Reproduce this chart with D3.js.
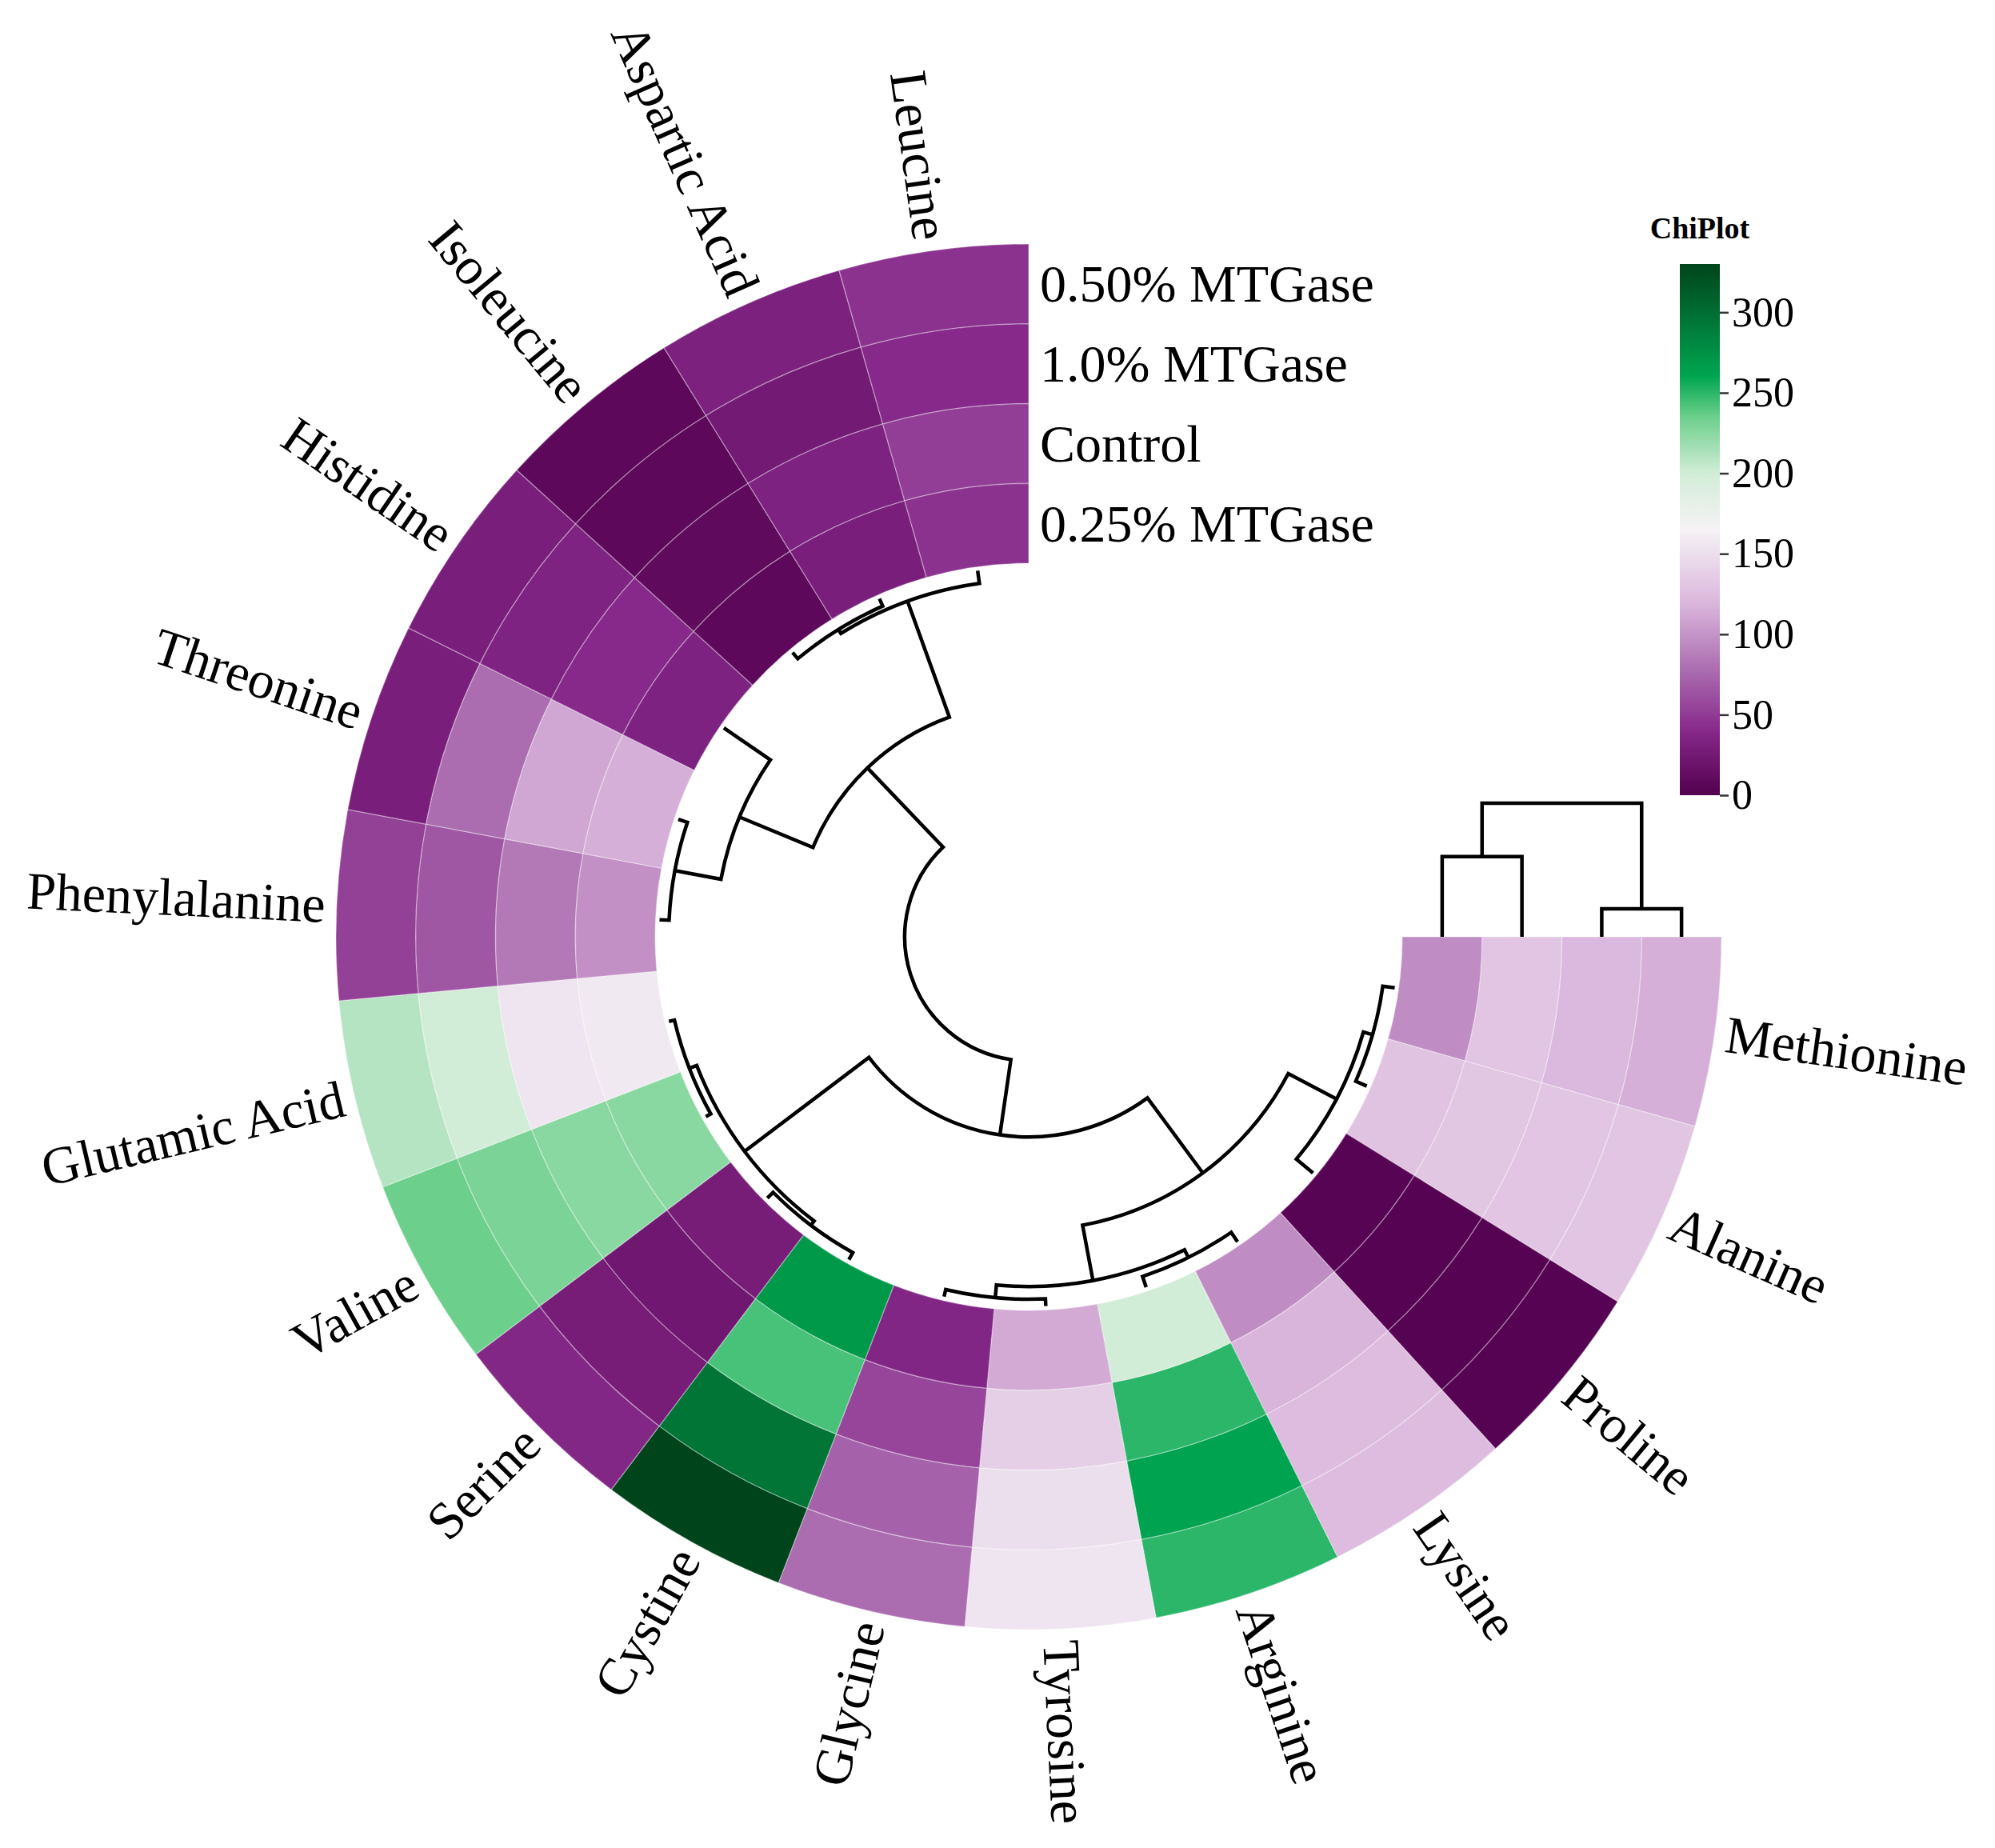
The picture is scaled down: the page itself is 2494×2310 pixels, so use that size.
<!DOCTYPE html>
<html><head><meta charset="utf-8">
<script src="https://cdn.jsdelivr.net/npm/d3@7"></script>
<style>html,body{margin:0;padding:0;background:#fff}</style>
</head><body><svg id="chart"></svg>
<script>
// ---------- data ----------
const aminoAcids = ["Methionine","Alanine","Proline","Lysine","Arginine","Tyrosine","Glycine",
  "Cystine","Serine","Valine","Glutamic Acid","Phenylalanine","Threonine","Histidine",
  "Isoleucine","Aspartic Acid","Leucine"];
const groups = ["0.50% MTGase","1.0% MTGase","Control","0.25% MTGase"]; // outer -> inner
const mtg050  = [115,130,3,123,250,155,78,330,38,235,210,53,30,30,8,32,45];
const mtg100  = [120,130,3,123,262,150,72,295,28,230,200,66,78,34,8,25,40];
const control = [130,132,3,118,250,138,56,243,23,225,155,85,110,40,10,33,52];
const mtg025  = [96,128,4,96,200,112,37,270,28,225,158,98,115,33,8,30,45];
const legendTicks = [0,50,100,150,200,250,300];
const colorDomain = [0,40,80,120,165,200,235,260,330];
// row dendrogram merges: [left node, right node, height]; leaves 0..16, new nodes 17..
const rowMerges = [
  [9,10,2.3],[5,6,2.9],[7,8,3.3],[14,15,3.3],[11,12,3.9],[3,4,4.6],[0,1,4.9],
  [20,16,5.2],[19,17,5.5],[22,18,8.1],[23,2,8.8],[21,13,23],[27,26,31],
  [28,24,55.4],[25,29,69],[31,30,100]
];
// column (ring) dendrogram merges: groups 0..3, new nodes 4..
const colMerges = [[3,2,60],[1,0,21],[4,5,100]];

// ---------- layout ----------
const W = 2494, H = 2310, cx = 1286, cy = 1171;
const rInner = 467, rOuter = 866, leafR = 462, rootR = 155;
const FONT = "'Liberation Serif','Times New Roman',serif";

const svg = d3.select("#chart").attr("width", W).attr("height", H);
svg.append("rect").attr("width", W).attr("height", H).attr("fill", "#fff");
const g = svg.append("g").attr("transform", `translate(${cx},${cy})`);

const angle = d3.scaleBand().domain(aminoAcids).range([Math.PI / 2, 2 * Math.PI]);
const ring = d3.scaleBand().domain(groups.slice().reverse()).range([rInner, rOuter]);
const color = d3.scaleLinear().domain(colorDomain)
  .range(["#53004f","#86298a","#ad70b2","#dbb8dd","#f5f2f5","#d2edd7","#6ccf8c","#00a651","#00441b"])
  .clamp(true);

const series = {"0.50% MTGase": mtg050, "1.0% MTGase": mtg100, "Control": control, "0.25% MTGase": mtg025};
const cells = [];
groups.forEach(gr => aminoAcids.forEach((aa, i) => cells.push({aa, gr, v: series[gr][i]})));

const arc = d3.arc()
  .innerRadius(d => ring(d.gr)).outerRadius(d => ring(d.gr) + ring.bandwidth())
  .startAngle(d => angle(d.aa)).endAngle(d => angle(d.aa) + angle.bandwidth());

g.selectAll("path.cell").data(cells).join("path").attr("class", "cell")
  .attr("d", arc).attr("fill", d => color(d.v))
  .attr("stroke", "rgba(255,255,255,0.3)").attr("stroke-width", 1.5);

// amino-acid labels
const mid = aa => angle(aa) + angle.bandwidth() / 2;
const isFlip = aa => { const a = mid(aa) * 180 / Math.PI - 90; return a > 90 && a < 270; };
g.selectAll("text.aa").data(aminoAcids).join("text").attr("class", "aa")
  .attr("transform", d => {
    const a = mid(d) * 180 / Math.PI - 90;
    return `rotate(${a}) translate(${rOuter + 14},0)` + (isFlip(d) ? " rotate(180)" : "");
  })
  .attr("text-anchor", d => isFlip(d) ? "end" : "start")
  .attr("dominant-baseline", "central")
  .style("font-family", FONT).style("font-size", "66px").attr("fill", "#000")
  .text(d => d);

// group labels
g.selectAll("text.grp").data(groups).join("text").attr("class", "grp")
  .attr("x", 14).attr("y", d => -(ring(d) + ring.bandwidth() / 2))
  .attr("dominant-baseline", "central")
  .style("font-family", FONT).style("font-size", "66px").attr("fill", "#000")
  .text(d => d);

// row dendrogram (circular)
const hR = d3.scaleLinear().domain([0, 100]).range([leafR, rootR]);
const pt = (a, r) => [r * Math.sin(a), -r * Math.cos(a)];
const nodes = aminoAcids.map(aa => ({a: mid(aa), r: leafR}));
const dendPaths = [];
rowMerges.forEach(([l, rr, h]) => {
  const A = nodes[l], B = nodes[rr];
  const r = hR(h);
  const p = d3.path();
  p.moveTo(...pt(A.a, A.r));
  p.lineTo(...pt(A.a, r));
  p.arc(0, 0, r, A.a - Math.PI / 2, B.a - Math.PI / 2, A.a > B.a);
  p.lineTo(...pt(B.a, B.r));
  dendPaths.push(p.toString());
  nodes.push({a: (A.a + B.a) / 2, r});
});
g.selectAll("path.dend").data(dendPaths).join("path").attr("class", "dend")
  .attr("d", d => d).attr("fill", "none").attr("stroke", "#000").attr("stroke-width", 4.5);

// column dendrogram (rectangular, above the Methionine edge)
const colH = d3.scaleLinear().domain([0, 100]).range([0, -167]);
const cnodes = groups.map(gr => ({x: ring(gr) + ring.bandwidth() / 2, y: 0}));
const colPaths = [];
colMerges.forEach(([l, rr, h]) => {
  const A = cnodes[l], B = cnodes[rr];
  const y = colH(h);
  const p = d3.path();
  p.moveTo(A.x, A.y); p.lineTo(A.x, y); p.lineTo(B.x, y); p.lineTo(B.x, B.y);
  colPaths.push(p.toString());
  cnodes.push({x: (A.x + B.x) / 2, y});
});
g.selectAll("path.cdend").data(colPaths).join("path").attr("class", "cdend")
  .attr("d", d => d).attr("fill", "none").attr("stroke", "#000").attr("stroke-width", 4.5);

// ---------- legend ----------
const lgX = 2100, lgW = 50, lgTop = 330, lgBot = 994;
const ly = d3.scaleLinear().domain([0, 330]).range([lgBot, lgTop]);
const defs = svg.append("defs");
const grad = defs.append("linearGradient").attr("id", "lg")
  .attr("x1", 0).attr("y1", 1).attr("x2", 0).attr("y2", 0);
d3.range(0, 331, 5).forEach(v => grad.append("stop").attr("offset", v / 330).attr("stop-color", color(v)));
svg.append("rect").attr("x", lgX).attr("y", lgTop).attr("width", lgW).attr("height", lgBot - lgTop)
  .attr("fill", "url(#lg)");
const ax = svg.append("g").attr("transform", `translate(${lgX + lgW},0)`)
  .call(d3.axisRight(ly).tickValues(legendTicks).tickSize(11).tickPadding(4));
ax.select(".domain").remove();
ax.selectAll(".tick line").attr("stroke", "#333").attr("stroke-width", 2.5);
ax.selectAll(".tick text").style("font-family", FONT).style("font-size", "52px").attr("fill", "#000");
svg.append("text").attr("x", lgX + lgW / 2).attr("y", 298).attr("text-anchor", "middle")
  .style("font-family", FONT).style("font-weight", "bold").style("font-size", "38px").text("ChiPlot");
</script>
</body></html>
